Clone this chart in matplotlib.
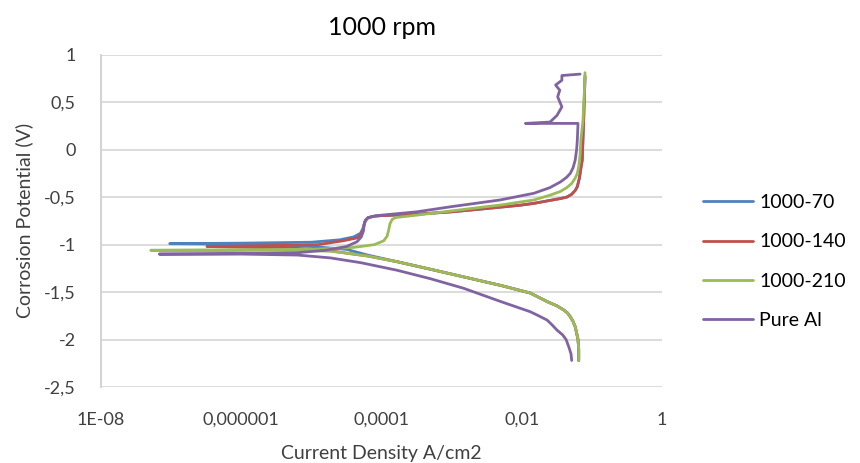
import matplotlib.pyplot as plt
import numpy as np

plt.rcParams['font.family'] = ['Lato', 'DejaVu Sans']

# log10 of current density (A/cm2) and potential (V)
logi_70 = [-1.19, -1.19, -1.20, -1.22, -1.24, -1.27, -1.31, -1.35, -1.40, -1.50, -1.64,
           -1.88, -2.30, -2.83, -3.30, -3.78, -4.20, -4.50, -5.00, -5.60, -7.02, -6.00,
           -5.00, -4.60, -4.40, -4.30, -4.26, -4.24, -4.20, -4.10, -4.00, -3.50, -3.00,
           -2.50, -2.02, -1.83, -1.60, -1.45, -1.36, -1.29, -1.24, -1.21, -1.18, -1.16,
           -1.14, -1.13, -1.12, -1.10]
e_70 = [-2.22, -2.10, -2.00, -1.93, -1.865, -1.81, -1.76, -1.72, -1.69, -1.645, -1.60,
        -1.51, -1.43, -1.34, -1.26, -1.18, -1.11, -1.05, -1.02, -1.00, -0.99, -0.985,
        -0.975, -0.95, -0.92, -0.88, -0.82, -0.76, -0.72, -0.70, -0.695, -0.68, -0.655,
        -0.62, -0.585, -0.566, -0.535, -0.515, -0.50, -0.47, -0.43, -0.39, -0.30, -0.20,
        -0.11, 0.10, 0.30, 0.76]

logi_140 = [-1.19, -1.19, -1.20, -1.22, -1.24, -1.27, -1.31, -1.35, -1.40, -1.50, -1.64,
            -1.88, -2.30, -2.83, -3.30, -3.78, -4.20, -4.50, -4.73, -5.20, -6.49, -5.50,
            -4.90, -4.55, -4.35, -4.29, -4.26, -4.25, -4.23, -4.19, -4.10, -4.00, -3.50,
            -3.00, -2.50, -2.02, -1.83, -1.60, -1.45, -1.36, -1.29, -1.24, -1.21, -1.18,
            -1.16, -1.14, -1.13, -1.12, -1.10]
e_140 = [-2.22, -2.10, -2.00, -1.93, -1.865, -1.81, -1.76, -1.72, -1.69, -1.645, -1.60,
         -1.51, -1.43, -1.34, -1.26, -1.18, -1.12, -1.09, -1.065, -1.04, -1.02, -1.01,
         -1.00, -0.96, -0.93, -0.89, -0.84, -0.79, -0.745, -0.715, -0.70, -0.695, -0.68,
         -0.655, -0.62, -0.585, -0.566, -0.535, -0.515, -0.50, -0.47, -0.43, -0.39, -0.30,
         -0.20, -0.11, 0.10, 0.30, 0.78]

logi_210 = [-1.19, -1.19, -1.20, -1.22, -1.24, -1.27, -1.31, -1.35, -1.40, -1.50, -1.64,
            -1.88, -2.30, -2.83, -3.30, -3.78, -4.20, -4.50, -4.73, -5.20, -7.29, -6.00,
            -5.00, -4.40, -4.10, -3.97, -3.92, -3.90, -3.88, -3.85, -3.80, -3.50, -3.00,
            -2.50, -2.31, -1.83, -1.60, -1.45, -1.36, -1.29, -1.24, -1.21, -1.19, -1.17,
            -1.16, -1.13, -1.11, -1.10]
e_210 = [-2.22, -2.10, -2.00, -1.93, -1.865, -1.81, -1.76, -1.72, -1.69, -1.645, -1.60,
         -1.51, -1.43, -1.34, -1.26, -1.18, -1.12, -1.09, -1.07, -1.06, -1.06, -1.055,
         -1.05, -1.03, -1.00, -0.96, -0.91, -0.85, -0.78, -0.735, -0.715, -0.69, -0.645,
         -0.60, -0.584, -0.53, -0.48, -0.44, -0.40, -0.356, -0.30, -0.25, -0.18, -0.05,
         0.10, 0.30, 0.60, 0.81]

logi_al = [-1.29, -1.30, -1.33, -1.37, -1.42, -1.50, -1.57, -1.64, -1.76, -1.88, -2.30,
           -2.83, -3.30, -3.78, -4.30, -4.73, -5.20, -6.00, -7.17, -6.00, -5.20, -4.80,
           -4.50, -4.35, -4.29, -4.26, -4.25, -4.23, -4.19, -4.10, -4.00, -3.50, -3.00,
           -2.31, -1.83, -1.60, -1.45, -1.36, -1.31, -1.27, -1.24, -1.22, -1.21, -1.20,
           -1.95, -1.60, -1.50, -1.43, -1.49, -1.46, -1.52, -1.43, -1.43, -1.17]
e_al = [-2.22, -2.15, -2.08, -2.00, -1.95, -1.90, -1.845, -1.795, -1.75, -1.707, -1.60,
        -1.46, -1.36, -1.27, -1.19, -1.14, -1.11, -1.10, -1.10, -1.095, -1.085, -1.06,
        -1.02, -0.97, -0.92, -0.86, -0.80, -0.745, -0.715, -0.70, -0.69, -0.655, -0.60,
        -0.53, -0.46, -0.40, -0.34, -0.29, -0.25, -0.19, -0.11, 0.00, 0.10, 0.276,
        0.276, 0.29, 0.36, 0.45, 0.556, 0.626, 0.68, 0.73, 0.78, 0.795]

series = [
    ('1000-70', logi_70, e_70, '#4F81BD'),
    ('1000-140', logi_140, e_140, '#C0504D'),
    ('1000-210', logi_210, e_210, '#9BBB59'),
    ('Pure Al', logi_al, e_al, '#8064A2'),
]

fig = plt.figure(figsize=(8.6, 4.63), dpi=100)
ax = fig.add_axes([0.1174, 0.164, 0.6526, 0.718])

for nombre, logi, e, color in series:
    ax.plot(10.0 ** np.array(logi), e, color=color, lw=2.0, label=nombre,
            solid_joinstyle='round', solid_capstyle='round')

ax.set_xscale('log')
ax.set_xlim(1e-8, 1)
ax.set_ylim(-2.5, 1)
ax.set_xticks([1e-8, 1e-6, 1e-4, 1e-2, 1])
ax.set_xticklabels(['1E-08', '0,000001', '0,0001', '0,01', '1'])
ax.minorticks_off()
yt = np.arange(-2.5, 1.01, 0.5)
ax.set_yticks(yt)
ax.set_yticklabels([('%g' % v).replace('.', ',') for v in yt])

ax.grid(axis='y', color='#D9D9D9', lw=1.3)
ax.set_axisbelow(True)
for s in ['top', 'right', 'bottom']:
    ax.spines[s].set_visible(False)
ax.spines['left'].set_color('#D0D0D0')
ax.spines['left'].set_linewidth(1.3)
ax.tick_params(length=0, labelsize=13, colors='#404040')
ax.tick_params(axis='x', pad=18)
ax.tick_params(axis='y', pad=18)

ax.set_title('1000 rpm', fontsize=18, pad=14)
ax.set_xlabel('Current Density A/cm2', fontsize=14, color='#404040', labelpad=12)
ax.set_ylabel('Corrosion Potential (V)', fontsize=14, color='#404040', labelpad=8)

fig.legend(loc='center left', bbox_to_anchor=(0.817, 0.435), frameon=False,
           fontsize=14, handlelength=2.6, handletextpad=0.3, labelspacing=1.15,
           borderpad=0, borderaxespad=0)

plt.savefig('out.png', dpi=100)
